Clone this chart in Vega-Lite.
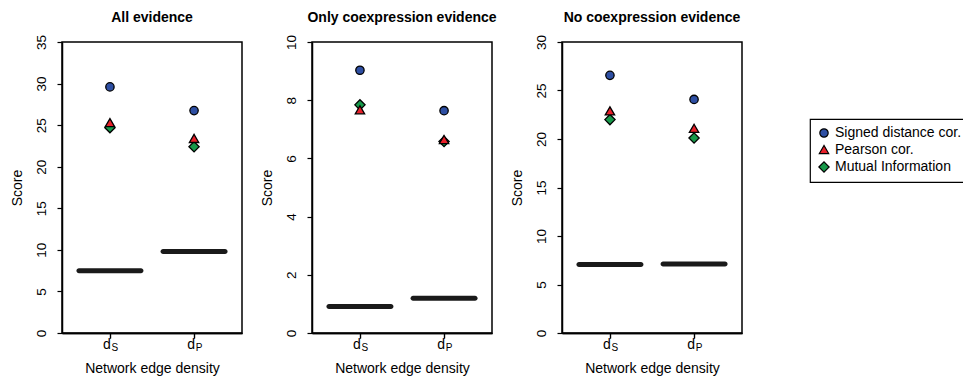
{
  "$schema": "https://vega.github.io/schema/vega-lite/v6.json",
  "padding": {"left": 9, "top": 10, "right": 0, "bottom": 0},
  "background": "white",
  "datasets": {
    "pts": [
      {"panel": "All evidence", "dens": 1, "method": "Signed distance cor.", "score": 29.6},
      {"panel": "All evidence", "dens": 1, "method": "Mutual Information", "score": 24.7},
      {"panel": "All evidence", "dens": 1, "method": "Pearson cor.", "score": 25.3},
      {"panel": "All evidence", "dens": 2, "method": "Signed distance cor.", "score": 26.75},
      {"panel": "All evidence", "dens": 2, "method": "Mutual Information", "score": 22.4},
      {"panel": "All evidence", "dens": 2, "method": "Pearson cor.", "score": 23.4},
      {"panel": "Only coexpression evidence", "dens": 1, "method": "Signed distance cor.", "score": 9.03},
      {"panel": "Only coexpression evidence", "dens": 1, "method": "Mutual Information", "score": 7.84},
      {"panel": "Only coexpression evidence", "dens": 1, "method": "Pearson cor.", "score": 7.67},
      {"panel": "Only coexpression evidence", "dens": 2, "method": "Signed distance cor.", "score": 7.64},
      {"panel": "Only coexpression evidence", "dens": 2, "method": "Mutual Information", "score": 6.58},
      {"panel": "Only coexpression evidence", "dens": 2, "method": "Pearson cor.", "score": 6.65},
      {"panel": "No coexpression evidence", "dens": 1, "method": "Signed distance cor.", "score": 26.56},
      {"panel": "No coexpression evidence", "dens": 1, "method": "Mutual Information", "score": 22.0},
      {"panel": "No coexpression evidence", "dens": 1, "method": "Pearson cor.", "score": 22.9},
      {"panel": "No coexpression evidence", "dens": 2, "method": "Signed distance cor.", "score": 24.08},
      {"panel": "No coexpression evidence", "dens": 2, "method": "Mutual Information", "score": 20.1},
      {"panel": "No coexpression evidence", "dens": 2, "method": "Pearson cor.", "score": 21.1}
    ],
    "base": [
      {"panel": "All evidence", "dens": 1, "score": 7.5},
      {"panel": "All evidence", "dens": 2, "score": 9.8},
      {"panel": "Only coexpression evidence", "dens": 1, "score": 0.91},
      {"panel": "Only coexpression evidence", "dens": 2, "score": 1.19},
      {"panel": "No coexpression evidence", "dens": 1, "score": 7.06},
      {"panel": "No coexpression evidence", "dens": 2, "score": 7.12}
    ]
  },
  "spacing": 70,
  "bounds": "flush",
  "hconcat": [
    {
      "title": "All evidence",
      "width": 180, "height": 291,
      "layer": [
        {
          "data": {"name": "base"},
          "transform": [{"filter": "datum.panel == 'All evidence'"}],
          "mark": {"type": "tick", "orient": "horizontal", "size": 67, "thickness": 5, "color": "#1a1a1a", "cornerRadius": 2.5, "opacity": 1},
          "encoding": {
            "x": {"field": "dens", "type": "quantitative", "scale": {"domain": [0.43, 2.57], "nice": false, "zero": false},
                  "axis": {"orient": "bottom", "values": [1, 2], "labelExpr": "'d'", "labelAngle": 0, "labelOffset": -3.5, "labelFontSize": 14, "labelPadding": -1, "title": "Network edge density", "titlePadding": 10}},
            "y": {"field": "score", "type": "quantitative", "scale": {"domain": [0, 35], "nice": false, "zero": true},
                  "axis": {"values": [0, 5, 10, 15, 20, 25, 30, 35], "title": "Score"}}
          }
        },
        {
          "data": {"name": "pts"},
          "transform": [{"filter": "datum.panel == 'All evidence'"}],
          "mark": {"type": "point", "filled": true, "stroke": "black", "strokeWidth": 1.3, "opacity": 1},
          "encoding": {
            "x": {"field": "dens", "type": "quantitative", "scale": {"domain": [0.43, 2.57], "nice": false, "zero": false},
                  "axis": {"orient": "bottom", "values": [1, 2], "labelExpr": "datum.value == 1 ? 'S' : 'P'", "labelAngle": 0, "labelOffset": 4.5, "labelFontSize": 10, "labelPadding": 4, "title": null}},
            "y": {"field": "score", "type": "quantitative", "scale": {"domain": [0, 35], "nice": false, "zero": true},
                  "axis": {"values": [0, 5, 10, 15, 20, 25, 30, 35], "title": "Score"}},
            "color": {"field": "method", "type": "nominal", "scale": {"domain": ["Signed distance cor.", "Pearson cor.", "Mutual Information"], "range": ["#2e4fa3", "#e8202a", "#17994a"]}, "legend": {"title": null}},
            "shape": {"field": "method", "type": "nominal", "scale": {"domain": ["Signed distance cor.", "Pearson cor.", "Mutual Information"], "range": ["circle", "triangle-up", "diamond"]}, "legend": {"title": null}},
            "size": {"field": "method", "type": "nominal", "scale": {"domain": ["Signed distance cor.", "Pearson cor.", "Mutual Information"], "range": [70, 105, 75]}, "legend": null}
          }
        }
      ],
      "resolve": {"axis": {"x": "independent"}}
    },
    {
      "title": "Only coexpression evidence",
      "width": 180, "height": 291,
      "layer": [
        {
          "data": {"name": "base"},
          "transform": [{"filter": "datum.panel == 'Only coexpression evidence'"}],
          "mark": {"type": "tick", "orient": "horizontal", "size": 67, "thickness": 5, "color": "#1a1a1a", "cornerRadius": 2.5, "opacity": 1},
          "encoding": {
            "x": {"field": "dens", "type": "quantitative", "scale": {"domain": [0.43, 2.57], "nice": false, "zero": false},
                  "axis": {"orient": "bottom", "values": [1, 2], "labelExpr": "'d'", "labelAngle": 0, "labelOffset": -3.5, "labelFontSize": 14, "labelPadding": -1, "title": "Network edge density", "titlePadding": 10}},
            "y": {"field": "score", "type": "quantitative", "scale": {"domain": [0, 10], "nice": false, "zero": true},
                  "axis": {"values": [0, 2, 4, 6, 8, 10], "title": "Score"}}
          }
        },
        {
          "data": {"name": "pts"},
          "transform": [{"filter": "datum.panel == 'Only coexpression evidence'"}],
          "mark": {"type": "point", "filled": true, "stroke": "black", "strokeWidth": 1.3, "opacity": 1},
          "encoding": {
            "x": {"field": "dens", "type": "quantitative", "scale": {"domain": [0.43, 2.57], "nice": false, "zero": false},
                  "axis": {"orient": "bottom", "values": [1, 2], "labelExpr": "datum.value == 1 ? 'S' : 'P'", "labelAngle": 0, "labelOffset": 4.5, "labelFontSize": 10, "labelPadding": 4, "title": null}},
            "y": {"field": "score", "type": "quantitative", "scale": {"domain": [0, 10], "nice": false, "zero": true},
                  "axis": {"values": [0, 2, 4, 6, 8, 10], "title": "Score"}},
            "color": {"field": "method", "type": "nominal", "scale": {"domain": ["Signed distance cor.", "Pearson cor.", "Mutual Information"], "range": ["#2e4fa3", "#e8202a", "#17994a"]}, "legend": {"title": null}},
            "shape": {"field": "method", "type": "nominal", "scale": {"domain": ["Signed distance cor.", "Pearson cor.", "Mutual Information"], "range": ["circle", "triangle-up", "diamond"]}, "legend": {"title": null}},
            "size": {"field": "method", "type": "nominal", "scale": {"domain": ["Signed distance cor.", "Pearson cor.", "Mutual Information"], "range": [70, 105, 75]}, "legend": null}
          }
        }
      ],
      "resolve": {"axis": {"x": "independent"}}
    },
    {
      "title": "No coexpression evidence",
      "width": 180, "height": 291,
      "layer": [
        {
          "data": {"name": "base"},
          "transform": [{"filter": "datum.panel == 'No coexpression evidence'"}],
          "mark": {"type": "tick", "orient": "horizontal", "size": 67, "thickness": 5, "color": "#1a1a1a", "cornerRadius": 2.5, "opacity": 1},
          "encoding": {
            "x": {"field": "dens", "type": "quantitative", "scale": {"domain": [0.43, 2.57], "nice": false, "zero": false},
                  "axis": {"orient": "bottom", "values": [1, 2], "labelExpr": "'d'", "labelAngle": 0, "labelOffset": -3.5, "labelFontSize": 14, "labelPadding": -1, "title": "Network edge density", "titlePadding": 10}},
            "y": {"field": "score", "type": "quantitative", "scale": {"domain": [0, 30], "nice": false, "zero": true},
                  "axis": {"values": [0, 5, 10, 15, 20, 25, 30], "title": "Score"}}
          }
        },
        {
          "data": {"name": "pts"},
          "transform": [{"filter": "datum.panel == 'No coexpression evidence'"}],
          "mark": {"type": "point", "filled": true, "stroke": "black", "strokeWidth": 1.3, "opacity": 1},
          "encoding": {
            "x": {"field": "dens", "type": "quantitative", "scale": {"domain": [0.43, 2.57], "nice": false, "zero": false},
                  "axis": {"orient": "bottom", "values": [1, 2], "labelExpr": "datum.value == 1 ? 'S' : 'P'", "labelAngle": 0, "labelOffset": 4.5, "labelFontSize": 10, "labelPadding": 4, "title": null}},
            "y": {"field": "score", "type": "quantitative", "scale": {"domain": [0, 30], "nice": false, "zero": true},
                  "axis": {"values": [0, 5, 10, 15, 20, 25, 30], "title": "Score"}},
            "color": {"field": "method", "type": "nominal", "scale": {"domain": ["Signed distance cor.", "Pearson cor.", "Mutual Information"], "range": ["#2e4fa3", "#e8202a", "#17994a"]}, "legend": {"title": null}},
            "shape": {"field": "method", "type": "nominal", "scale": {"domain": ["Signed distance cor.", "Pearson cor.", "Mutual Information"], "range": ["circle", "triangle-up", "diamond"]}, "legend": {"title": null}},
            "size": {"field": "method", "type": "nominal", "scale": {"domain": ["Signed distance cor.", "Pearson cor.", "Mutual Information"], "range": [70, 105, 75]}, "legend": null}
          }
        }
      ],
      "resolve": {"axis": {"x": "independent"}}
    }
  ],
  "config": {
    "font": "Liberation Sans",
    "view": {"stroke": "black", "strokeWidth": 1.5},
    "axis": {"grid": false, "domainColor": "black", "domainWidth": 1.5, "tickColor": "black", "tickWidth": 1.2, "tickSize": 5,
             "labelColor": "black", "labelFont": "Liberation Sans", "labelFontSize": 13.5,
             "titleFont": "Liberation Sans", "titleFontSize": 14, "titleFontWeight": "normal", "titleColor": "black"},
    "axisY": {"labelAngle": -90, "labelPadding": 9, "titlePadding": 10},
    "title": {"font": "Liberation Sans", "fontSize": 14, "fontWeight": "bold", "color": "black", "offset": 9},
    "legend": {"orient": "none", "legendX": 748, "legendY": 77, "strokeColor": "black", "strokeWidth": 1.2, "padding": 7,
               "labelFont": "Liberation Sans", "labelFontSize": 14, "labelColor": "black", "labelOffset": 4,
               "symbolStrokeColor": "black", "symbolStrokeWidth": 1.2, "symbolSize": 50, "rowPadding": 2.5, "symbolType": "circle"}
  }
}
